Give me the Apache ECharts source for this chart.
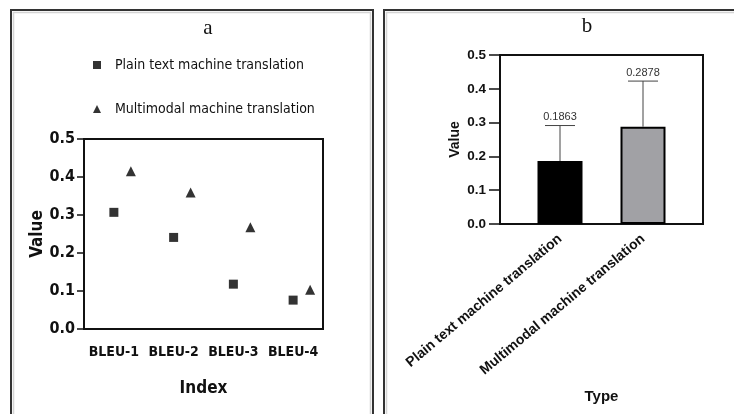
<!DOCTYPE html>
<html>
<head>
<meta charset="utf-8">
<script src="https://cdn.jsdelivr.net/npm/echarts@6/dist/echarts.min.js"></script>
<style>
html, body { margin: 0; padding: 0; background: #fff; }
#chart { width: 734px; height: 414px; }
</style>
</head>
<body>
<div id="chart"></div>
<script>
// panel a: BLEU scores
const bleuNames = ['BLEU-1', 'BLEU-2', 'BLEU-3', 'BLEU-4']
const plainBleu = [0.307, 0.241, 0.118, 0.076]
const multiBleu = [0.415, 0.359, 0.268, 0.103]
const seriesNames = ['Plain text machine translation', 'Multimodal machine translation']

// panel b: mean value with upper error bar
const typeNames = ['Plain text machine translation', 'Multimodal machine translation']
const typeMeans = [0.1863, 0.2878]
const typeErrors = [0.105, 0.135]

const yMin = 0
const yMax = 0.5
const yStep = 0.1

const narrow = '"DejaVu Sans Condensed", "Liberation Sans", Arial, sans-serif'
const sans = '"Liberation Sans", Arial, sans-serif'
const barColors = ['#000000', '#a1a1a5']

const chart = echarts.init(document.getElementById('chart'))

// 误差线 + 数值标签
function errorBar (params, api) {
  const i = api.value(0)
  const mean = api.value(1)
  const err = api.value(2)
  const base = api.coord([i, mean])
  const top = api.coord([i, mean + err])
  const lineStyle = { stroke: '#444', lineWidth: 1 }
  return {
    type: 'group',
    children: [
      { type: 'line', shape: { x1: base[0], y1: base[1], x2: top[0], y2: top[1] }, style: lineStyle },
      { type: 'line', shape: { x1: top[0] - 15, y1: top[1], x2: top[0] + 15, y2: top[1] }, style: lineStyle },
      {
        type: 'text',
        x: top[0],
        y: top[1] - 3,
        style: { text: mean.toFixed(4), align: 'center', verticalAlign: 'bottom', fontSize: 11, fontFamily: sans, fill: '#333' }
      }
    ]
  }
}

const yLabel = (v) => v.toFixed(1)

const option = {
  animation: false,
  backgroundColor: '#fff',
  title: [
    { text: 'a', left: 203, top: 13, textAlign: 'center', textStyle: { fontFamily: '"Liberation Serif", "DejaVu Serif", serif', fontSize: 21, fontWeight: 'normal', color: '#111' } },
    { text: 'b', left: 582, top: 11, textAlign: 'center', textStyle: { fontFamily: '"Liberation Serif", "DejaVu Serif", serif', fontSize: 21, fontWeight: 'normal', color: '#111' } }
  ],
  legend: {
    orient: 'vertical',
    left: 88,
    top: 53,
    itemGap: 30,
    itemWidth: 8,
    itemHeight: 8,
    data: [
      { name: seriesNames[0], icon: 'rect' },
      { name: seriesNames[1], icon: 'triangle' }
    ],
    textStyle: { fontFamily: narrow, fontSize: 14, color: '#111', padding: [0, 0, 0, 9] }
  },
  graphic: [
    { type: 'rect', shape: { x: 11, y: 10, width: 362, height: 430 }, style: { fill: 'none', stroke: '#333', lineWidth: 2 }, silent: true },
    { type: 'rect', shape: { x: 13.5, y: 12.5, width: 357, height: 430 }, style: { fill: 'none', stroke: '#d4d4d4', lineWidth: 1.5 }, silent: true },
    { type: 'rect', shape: { x: 384, y: 10, width: 400, height: 430 }, style: { fill: 'none', stroke: '#333', lineWidth: 2 }, silent: true },
    { type: 'rect', shape: { x: 386.5, y: 12.5, width: 400, height: 430 }, style: { fill: 'none', stroke: '#d4d4d4', lineWidth: 1.5 }, silent: true }
  ],
  grid: [
    { left: 84, top: 139, width: 239, height: 190, show: true, borderColor: '#111', borderWidth: 2 },
    { left: 500, top: 55, width: 203, height: 169, show: true, borderColor: '#111', borderWidth: 2 },
    { left: 518.5, top: 55, width: 166, height: 169 }
  ],
  xAxis: [
    {
      gridIndex: 0,
      type: 'category',
      data: bleuNames,
      axisLine: { lineStyle: { color: '#111', width: 2 } },
      axisTick: { alignWithLabel: true, length: 7, lineStyle: { color: '#111', width: 1.5 } },
      axisLabel: { color: '#111', fontFamily: narrow, fontWeight: 'bold', fontSize: 14, margin: 16, interval: 0 },
      name: 'Index',
      nameLocation: 'middle',
      nameGap: 51,
      nameTextStyle: { color: '#111', fontFamily: narrow, fontWeight: 'bold', fontSize: 17 }
    },
    {
      gridIndex: 1,
      type: 'category',
      data: typeNames,
      show: false
    },
    {
      gridIndex: 2,
      type: 'category',
      data: typeNames,
      axisLine: { show: false },
      axisTick: { alignWithLabel: true, length: 8, lineStyle: { color: '#111', width: 2 } },
      axisLabel: { color: '#111', fontFamily: sans, fontWeight: 'bold', fontSize: 14, rotate: 40, margin: 13, interval: 0 },
      name: 'Type',
      nameLocation: 'middle',
      nameGap: 165,
      nameTextStyle: { color: '#111', fontFamily: sans, fontWeight: 'bold', fontSize: 15 }
    }
  ],
  yAxis: [
    {
      gridIndex: 0,
      type: 'value',
      min: yMin,
      max: yMax,
      interval: yStep,
      splitLine: { show: false },
      axisLine: { show: true, lineStyle: { color: '#111', width: 2 } },
      axisTick: { show: true, length: 7, lineStyle: { color: '#111', width: 1.5 } },
      axisLabel: { color: '#111', fontFamily: narrow, fontWeight: 'bold', fontSize: 16, margin: 9, formatter: yLabel },
      name: 'Value',
      nameLocation: 'middle',
      nameGap: 31,
      nameTextStyle: { color: '#111', fontFamily: narrow, fontWeight: 'bold', fontSize: 17 }
    },
    {
      gridIndex: 1,
      type: 'value',
      min: yMin,
      max: yMax,
      interval: yStep,
      splitLine: { show: false },
      axisLine: { show: true, lineStyle: { color: '#111', width: 2 } },
      axisTick: { show: true, length: 11, lineStyle: { color: '#111', width: 1.5 } },
      axisLabel: { color: '#111', fontFamily: sans, fontWeight: 'bold', fontSize: 13.5, margin: 14, formatter: yLabel },
      name: 'Value',
      nameLocation: 'middle',
      nameGap: 38,
      nameTextStyle: { color: '#111', fontFamily: sans, fontWeight: 'bold', fontSize: 14 }
    },
    {
      gridIndex: 2,
      type: 'value',
      min: yMin,
      max: yMax,
      interval: yStep,
      show: false
    }
  ],
  series: [
    {
      name: seriesNames[0],
      type: 'scatter',
      xAxisIndex: 0,
      yAxisIndex: 0,
      symbol: 'rect',
      symbolSize: 9,
      itemStyle: { color: '#000' },
      data: plainBleu
    },
    {
      name: seriesNames[1],
      type: 'scatter',
      xAxisIndex: 0,
      yAxisIndex: 0,
      symbol: 'triangle',
      symbolSize: [10, 10],
      symbolOffset: [17, 0],
      itemStyle: { color: '#000' },
      data: multiBleu
    },
    {
      name: 'mean',
      type: 'bar',
      xAxisIndex: 2,
      yAxisIndex: 2,
      barWidth: 45,
      data: typeMeans.map((v, i) => ({ value: v, itemStyle: { color: barColors[i] } })),
      itemStyle: { borderColor: '#000', borderWidth: 2 }
    },
    {
      name: 'error',
      type: 'custom',
      xAxisIndex: 2,
      yAxisIndex: 2,
      z: 3,
      renderItem: errorBar,
      encode: { x: 0, y: 1 },
      data: typeMeans.map((m, i) => [i, m, typeErrors[i]])
    }
  ]
}

chart.setOption(option)
</script>
</body>
</html>
